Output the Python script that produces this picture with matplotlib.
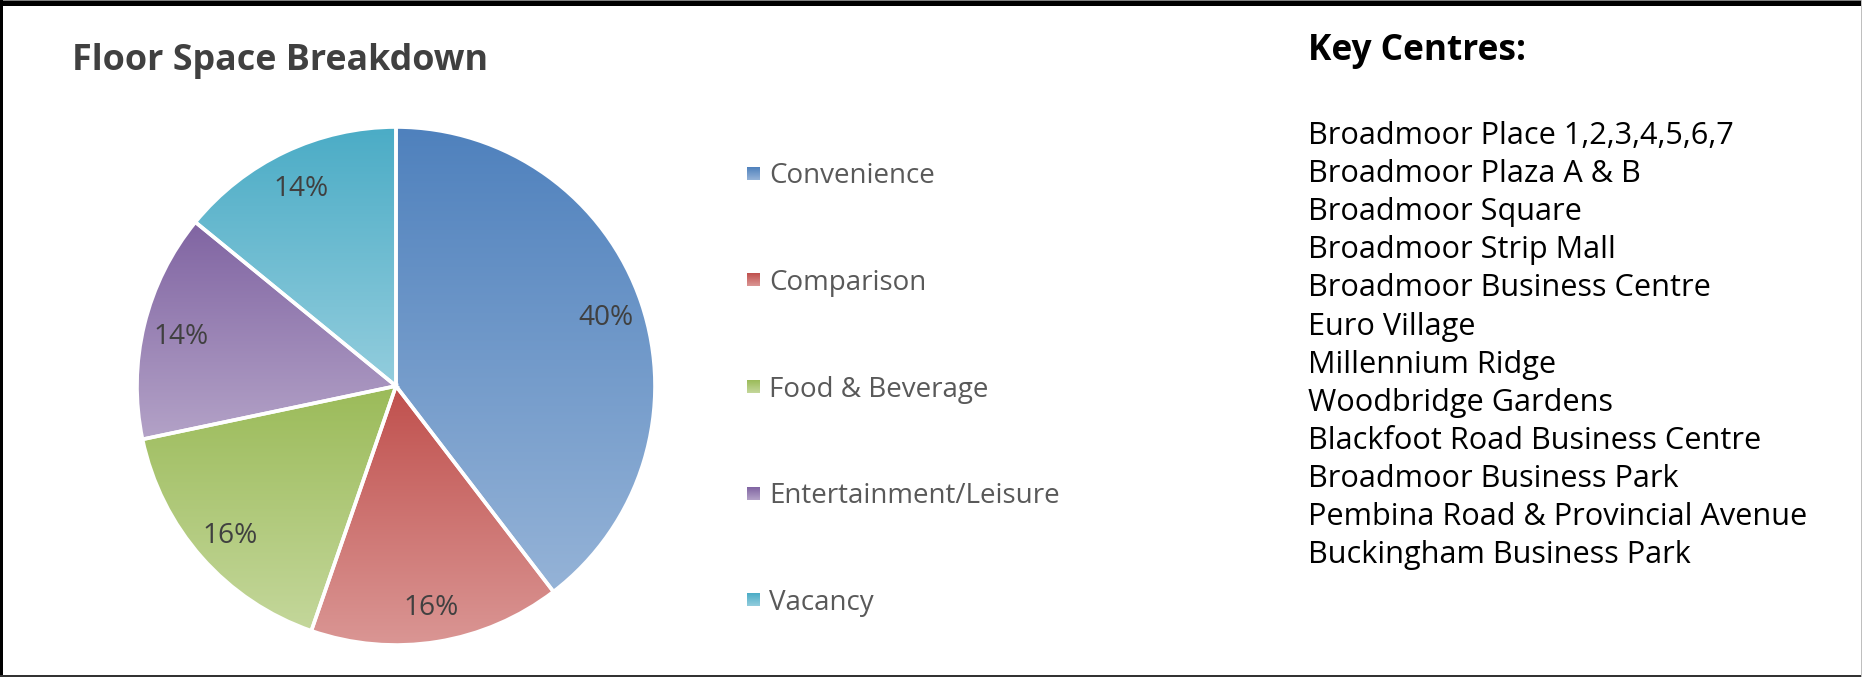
import numpy as np
import matplotlib
matplotlib.use('Agg')
import matplotlib.pyplot as plt
from matplotlib.patches import Rectangle
from matplotlib.colors import LinearSegmentedColormap

# ---------------- data ----------------
categories = ['Convenience', 'Comparison', 'Food & Beverage',
              'Entertainment/Leisure', 'Vacancy']
shares = [39.6, 15.7, 16.4, 14.2, 14.1]
top_colors = ['#4F81BD', '#C0504D', '#9BBB59', '#8064A2', '#4BACC6']
bottom_colors = ['#95B3D7', '#DA9694', '#C4D79B', '#B3A2C7', '#93CDDD']
chart_title = 'Floor Space Breakdown'
key_title = 'Key Centres:'
key_centres = [
    'Broadmoor Place 1,2,3,4,5,6,7',
    'Broadmoor Plaza A & B',
    'Broadmoor Square',
    'Broadmoor Strip Mall',
    'Broadmoor Business Centre',
    'Euro Village',
    'Millennium Ridge',
    'Woodbridge Gardens',
    'Blackfoot Road Business Centre',
    'Broadmoor Business Park',
    'Pembina Road & Provincial Avenue',
    'Buckingham Business Park',
]

# ---------------- figure ----------------
plt.rcParams['font.family'] = ['Open Sans', 'DejaVu Sans']
W, H, DPI = 1862, 677, 100
fig = plt.figure(figsize=(W / DPI, H / DPI), dpi=DPI)
fig.patch.set_facecolor('white')
renderer = fig.canvas.get_renderer()


def fit_size(text, target_px, **kw):
    t = fig.text(0, 0, text, fontsize=20, **kw)
    w = t.get_window_extent(renderer=renderer).width
    t.remove()
    return 20 * target_px / w


# overlay axes in pixel coordinates
ov = fig.add_axes([0, 0, 1, 1], zorder=0)
ov.set_xlim(0, W)
ov.set_ylim(H, 0)
ov.axis('off')

# ---------------- pie ----------------
cx, cy, R = 396, 386, 259
ax = fig.add_axes([(cx - R) / W, 1 - (cy + R) / H, 2 * R / W, 2 * R / H], zorder=2)
pct_size = fit_size('40%', 55)
wedges, texts, autotexts = ax.pie(
    shares, startangle=90, counterclock=False, radius=1,
    autopct='%.0f%%', pctdistance=0.855,
    wedgeprops=dict(edgecolor='white', linewidth=2.6),
    textprops=dict(color='#404040', fontsize=pct_size))
for at in autotexts:
    at.set_va('center_baseline')
    at.set_zorder(5)

for w, ct, cb in zip(wedges, top_colors, bottom_colors):
    t = np.radians(np.linspace(w.theta1, w.theta2, 400))
    xs = np.concatenate([[w.center[0]], w.center[0] + w.r * np.cos(t)])
    ys = np.concatenate([[w.center[1]], w.center[1] + w.r * np.sin(t)])
    cmap = LinearSegmentedColormap.from_list('g', [cb, ct])
    grad = np.linspace(0, 1, 256).reshape(-1, 1)
    im = ax.imshow(grad, cmap=cmap, origin='lower', aspect='auto',
                   extent=[xs.min(), xs.max(), ys.min(), ys.max()],
                   interpolation='bilinear', zorder=1)
    im.set_clip_path(w)
    w.set_facecolor('none')
    w.set_zorder(3)
ax.set_xlim(-1, 1)
ax.set_ylim(-1, 1)
ax.set_aspect('equal')
ax.axis('off')

# ---------------- title ----------------
title_size = fit_size(chart_title, 416, fontweight='bold')
ov.text(72, 70, chart_title, fontsize=title_size, fontweight='bold',
        color='#404040', ha='left', va='baseline')

# ---------------- legend ----------------
leg_size = fit_size('Entertainment/Leisure', 290)
leg_base0, leg_step = 183.3, 106.67
for i, (name, ct, cb) in enumerate(zip(categories, top_colors, bottom_colors)):
    yb = leg_base0 + i * leg_step
    cmap = LinearSegmentedColormap.from_list('g', [ct, cb])
    grad = np.linspace(0, 1, 64).reshape(-1, 1)
    ov.imshow(grad, cmap=cmap, aspect='auto', interpolation='bilinear',
              extent=[746.5, 759.5, yb - 3.5, yb - 16.0])
    ov.text(769, yb, name, fontsize=leg_size, color='#595959',
            ha='left', va='baseline')

# ---------------- key centres ----------------
key_title_size = fit_size(key_title, 219, fontweight='bold')
ov.text(1308, 60.4, key_title, fontsize=key_title_size, fontweight='bold',
        color='black', ha='left', va='baseline')
list_size = fit_size('Pembina Road & Provincial Avenue', 498)
for i, name in enumerate(key_centres):
    ov.text(1308, 143.8 + i * 38.15, name, fontsize=list_size, color='black',
            ha='left', va='baseline')

# ---------------- frame ----------------
ov.add_patch(Rectangle((0, 0), W, 1, color='#7F7F7F', lw=0))
ov.add_patch(Rectangle((0, 1), W, 5, color='black', lw=0))
ov.add_patch(Rectangle((0, 0), 3, H, color='black', lw=0))
ov.add_patch(Rectangle((0, H - 2), W, 2, color='#333333', lw=0))
ov.add_patch(Rectangle((W - 1, 0), 1, H, color='#BFBFBF', lw=0))
ov.set_xlim(0, W)
ov.set_ylim(H, 0)

fig.savefig('out.png', dpi=DPI, facecolor='white')
